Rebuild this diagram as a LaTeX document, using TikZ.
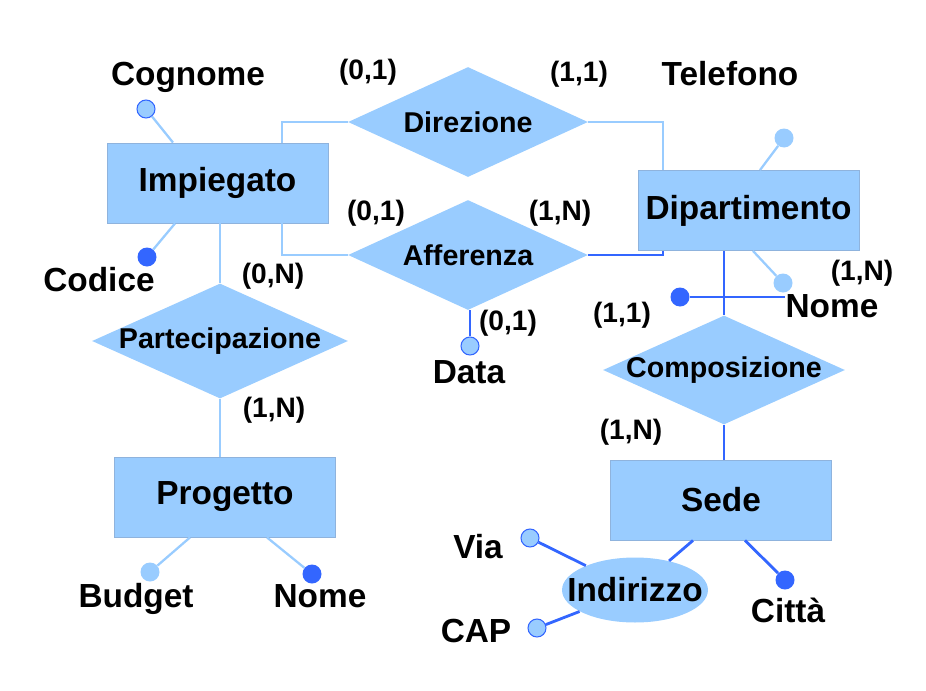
\documentclass[tikz,border=0pt]{standalone}
\usepackage{fontspec}
\setmainfont{Liberation Sans}
\usepackage{tikz}
\usetikzlibrary{shapes.geometric}
\definecolor{erlight}{HTML}{99CCFF}
\definecolor{erdark}{HTML}{3366FF}
\definecolor{erframe}{HTML}{8FB3DD}

\begin{document}
\begin{tikzpicture}[x=0.02cm,y=-0.02cm]
\tikzstyle{entity}=[rectangle, draw=erframe, line width=0.5pt, fill=erlight, minimum width=4.42cm, minimum height=1.6cm, font=\fontsize{19}{22}\selectfont\bfseries]
\tikzstyle{relation}=[diamond, fill=erlight, aspect=2.2, inner xsep=-0.2cm, inner ysep=0pt, minimum width=4.8cm, minimum height=2.2cm, font=\fontsize{16.3}{19}\selectfont\bfseries]
\tikzstyle{attr}=[circle, draw=erdark, line width=0.6pt, fill=erlight, minimum size=0.36cm, inner sep=0pt]
\tikzstyle{attrsoft}=[circle, fill=erlight, minimum size=0.38cm, inner sep=0pt]
\tikzstyle{key}=[circle, fill=erdark, minimum size=0.38cm, inner sep=0pt]
\tikzstyle{attrname}=[anchor=base, inner sep=0pt, font=\fontsize{19}{22}\selectfont\bfseries]
\tikzstyle{card}=[anchor=base, inner sep=0pt, font=\fontsize{16}{19}\selectfont\bfseries]
\tikzstyle{soft}=[erlight, line width=1.3pt]
\tikzstyle{strong}=[erdark, line width=1.6pt]
\useasboundingbox (0,0) rectangle (926,690);

\node[entity] (imp) at (217.5,183) {Impiegato};
\node[entity] (dip) at (748.5,210.5) {Dipartimento};
\node[entity] (prog) at (225,497) {Progetto};
\node[entity] (sede) at (721,500) {Sede};

\node[relation] (dir) at (468,122) {Direzione};
\node[relation] (aff) at (468,255) {Afferenza};
\node[relation, minimum width=5.12cm, minimum height=2.3cm] (part) at (220,341) {Partecipazione};
\node[relation, minimum width=4.84cm, minimum height=2.18cm] (comp) at (724,370) {Composizione};
\node[ellipse, fill=erlight, minimum width=2.92cm, minimum height=1.3cm, inner xsep=-0.33cm, inner ysep=0pt, font=\fontsize{19}{22}\selectfont\bfseries] (ind) at (635,590) {Indirizzo};

\node[attr] (cogn) at (146,109) {};
\node[key] (cod) at (147,257) {};
\node[attrsoft] (tel) at (784,138) {};
\node[attrsoft] (nomedip) at (783,283) {};
\node[key] (idkey) at (680,297) {};
\node[attr] (data) at (470,346) {};
\node[attrsoft] (budget) at (150,572) {};
\node[key] (nomeprog) at (312,574) {};
\node[attr] (via) at (530,538) {};
\node[attr] (cap) at (537,628) {};
\node[key] (citta) at (785,580) {};

\node[attrname] (cognname) at (188,85) {Cognome};
\node[attrname] (telname) at (730,85) {Telefono};
\node[attrname] (codname) at (99,291) {Codice};
\node[attrname] (dataname) at (469,383) {Data};
\node[attrname] (nomedipname) at (832,317) {Nome};
\node[attrname] (budgetname) at (136,607) {Budget};
\node[attrname] (nomeprogname) at (320,607) {Nome};
\node[attrname] (vianame) at (478,558) {Via};
\node[attrname] (capname) at (476,642) {CAP};
\node[attrname] (cittaname) at (788,622) {Città};

\node[card] (dir imp) at (368,79) {(0,1)};
\node[card] (dir dip) at (579,81) {(1,1)};
\node[card] (aff imp) at (376,220) {(0,1)};
\node[card] (aff dip) at (560,220) {(1,N)};
\node[card] (part imp) at (273,283) {(0,N)};
\node[card] (part prog) at (274,417) {(1,N)};
\node[card] (aff data) at (508,330) {(0,1)};
\node[card] (comp dip) at (862,280) {(1,N)};
\node[card] (comp sede) at (622,322) {(1,1)};
\node[card] (comp sede2) at (631,439) {(1,N)};

\draw[soft] (cogn) -- ([xshift=-0.89cm]imp.north);
\draw[soft] (cod) -- ([xshift=-0.85cm]imp.south);
\draw[soft] (part.north) -- (part.north |- imp.south);
\draw[soft] ([xshift=1.29cm]imp.north) |- (dir.west);
\draw[soft] ([xshift=1.29cm]imp.south) |- (aff.west);
\draw[soft] (dir.east) -| ([xshift=-1.71cm]dip.north);
\draw[strong] (aff.east) -| ([xshift=-1.71cm]dip.south);
\draw[soft] (tel) -- ([xshift=0.23cm]dip.north);
\draw[soft] (nomedip) -- ([xshift=0.09cm]dip.south);
\draw[strong] (data) -- (data |- aff.south);

\draw[soft] (part.south) -- (part.south |- prog.north);
\draw[soft] (budget) -- ([xshift=-0.7cm]prog.south);
\draw[soft] (nomeprog) -- ([xshift=0.84cm]prog.south);

\draw[strong] (comp.north) -- (comp.north |- dip.south);
\draw[strong] (idkey) -- (idkey -| nomedipname.west);
\draw[strong] (comp.south) -- (comp.south |- sede.north);
\draw[strong] ([xshift=-0.56cm]sede.south) -- (ind);
\draw[strong] ([xshift=0.48cm]sede.south) -- (citta);
\draw[strong] (via) -- (ind);
\draw[strong] (cap) -- (ind);
\end{tikzpicture}
\end{document}
